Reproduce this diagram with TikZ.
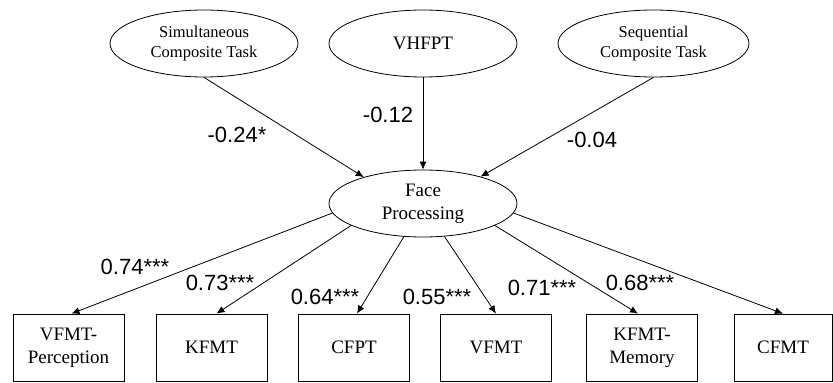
\documentclass[tikz,border=0pt]{standalone}
\usepackage{fontspec}
\setmainfont{Liberation Serif}
\newfontfamily\lblfont{Liberation Sans}
\usetikzlibrary{shapes.geometric,arrows.meta}
\begin{document}
\begin{tikzpicture}[x=1pt,y=-1pt,
  every path/.style={line width=0.8pt},
  latent/.style={draw,ellipse,minimum width=188pt,minimum height=67pt,inner sep=0pt,align=center,font=\fontsize{16.5}{20}\selectfont},
  facestyle/.style={latent,font=\fontsize{19}{23}\selectfont},
  obsbox/.style={draw,rectangle,minimum width=111pt,minimum height=67pt,inner sep=0pt,align=center,font=\fontsize{19}{23}\selectfont},
  coef/.style={font=\lblfont\fontsize{22}{24}\selectfont,inner sep=0pt},
  arr/.style={-{Latex[length=8pt,width=7pt]}}
]
\useasboundingbox (0,0) rectangle (833,383);
\node[latent] (sim) at (204,43.5) {Simultaneous\\Composite Task};
\node[latent,font=\fontsize{19}{23}\selectfont] (vh) at (423,43.5) {VHFPT};
\node[latent,minimum width=191pt] (seq) at (653.5,43.5) {Sequential\\Composite Task};
\node[facestyle] (face) at (423,203.5) {Face\\Processing};

\node[obsbox] (b1) at (68.5,347.5) {VFMT-\\Perception};
\node[obsbox] (b2) at (211.5,347.5) {KFMT};
\node[obsbox] (b3) at (354,347.5) {CFPT};
\node[obsbox] (b4) at (496,347.5) {VFMT};
\node[obsbox] (b5) at (642,347.5) {KFMT-\\Memory};
\node[obsbox,minimum width=98pt] (b6) at (783,347.5) {CFMT};

\draw[arr] (sim.south) -- (face.156);
\draw[arr] (vh.south) -- (face.north);
\draw[arr] (seq.south) -- (face.25);

\draw[arr] (face.186) -- ([xshift=3pt]b1.north);
\draw[arr] (face.197) -- ([xshift=5pt]b2.north);
\draw[arr] (face.240) -- ([xshift=3pt]b3.north);
\draw[arr] (face.303) -- (b4.north);
\draw[arr] (face.343) -- ([xshift=-4pt]b5.north);
\draw[arr] (face.354) -- (b6.north);

\node[coef] (c1) at (237,135) {-0.24*};
\node[coef] (c2) at (388,115) {-0.12};
\node[coef] (c3) at (592,140) {-0.04};
\node[coef] (l1) at (135,267) {0.74***};
\node[coef] (l2) at (220,283) {0.73***};
\node[coef] (l3) at (325,297) {0.64***};
\node[coef] (l4) at (437,297) {0.55***};
\node[coef] (l5) at (542,288) {0.71***};
\node[coef] (l6) at (640,283) {0.68***};
\end{tikzpicture}
\end{document}
